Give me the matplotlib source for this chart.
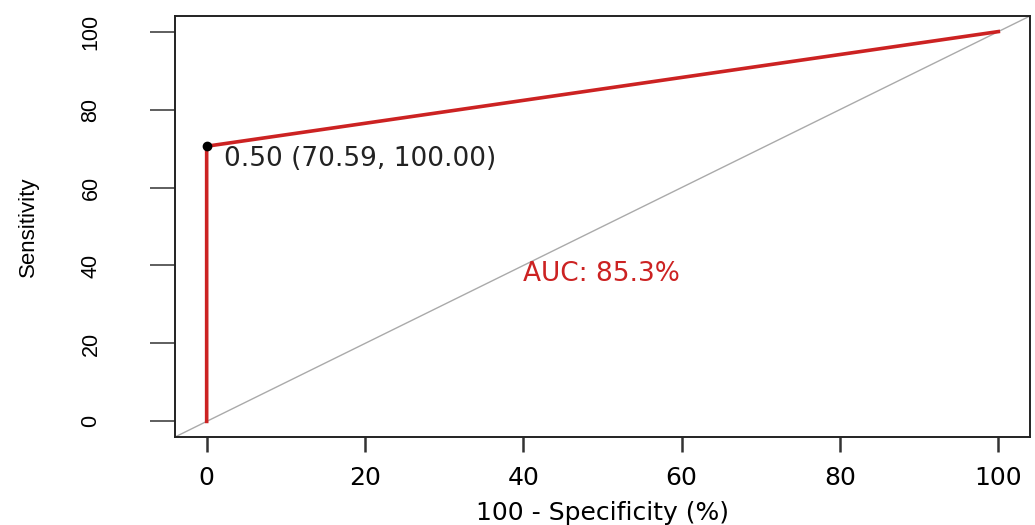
import matplotlib
matplotlib.use("Agg")
import matplotlib.pyplot as plt
import numpy as np

# ROC curve points (x = 100 - specificity, y = sensitivity), in percent
fpr = [0, 0, 100]
sens = [0, 70.59, 100]

# best threshold and its (sensitivity, specificity)
thr = 0.50
thr_sens = 70.59
thr_spec = 100.00

xticks = [0, 20, 40, 60, 80, 100]
yticks = [0, 20, 40, 60, 80, 100]

red = "#cc2222"
auc = np.trapezoid(sens, fpr) / 100

fig = plt.figure(figsize=(10.35, 5.25), dpi=100)
ax = fig.add_axes([175 / 1035, 1 - 437 / 525, 855 / 1035, 421 / 525])

# chance diagonal
ax.axline((0, 0), (100, 100), color="#aaaaaa", lw=1, zorder=1)

ax.plot(fpr, sens, color=red, lw=2.6, solid_joinstyle="miter", zorder=2)
ax.plot([100 - thr_spec], [thr_sens], "o", color="black", ms=6, zorder=3)
ax.text(100 - thr_spec + 2.2, thr_sens - 3.4,
        f"{thr:.2f} ({thr_sens:.2f}, {thr_spec:.2f})",
        fontsize=19, family="DejaVu Sans", color="#222222",
        ha="left", va="center")
ax.text(40, 37.8, f"AUC: {auc:.1f}%", fontsize=19, family="DejaVu Sans",
        color=red, ha="left", va="center")

ax.set_xlim(-4, 104)
ax.set_ylim(-4, 104)
ax.set_xticks(xticks, labels=[str(v) for v in xticks],
              fontsize=18, fontfamily="DejaVu Sans")
ax.set_yticks(yticks, labels=[str(v) for v in yticks],
              fontsize=15.5, fontfamily="Liberation Sans",
              rotation=90, va="center")

for s in ax.spines.values():
    s.set_linewidth(1.4)
    s.set_color("#222222")

ax.tick_params(axis="x", length=11, width=1.8, pad=10, color="#333333")
ax.tick_params(axis="y", length=18, width=1.1, pad=35, color="#333333")

ax.set_xlabel("100 - Specificity (%)", fontsize=18, family="DejaVu Sans",
              labelpad=8)
ax.set_ylabel("Sensitivity", fontsize=16, family="Liberation Sans",
              labelpad=30)

fig.savefig("out.png", dpi=100)
